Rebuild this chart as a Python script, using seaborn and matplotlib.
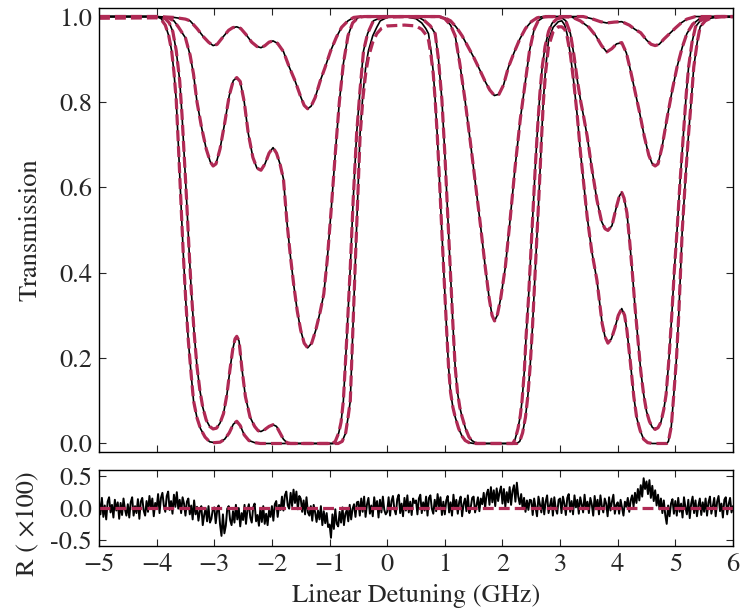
import numpy as np
import pandas as pd
import matplotlib
matplotlib.use("Agg")
import matplotlib.pyplot as plt
from matplotlib.ticker import FormatStrFormatter
import seaborn as sns

# ========== values ==========
X_MIN, X_MAX = -5.0, 6.0
FIT_RED = "#b02a55"

# (detuning GHz, transmission) for the four measured spectra, weakest first
curve_1 = [(-5.0, 1.0), (-4.0, 1.0), (-3.7, 0.998), (-3.5, 0.994), (-3.42, 0.99), (-3.3, 0.972),
           (-3.19, 0.953), (-3.1, 0.94), (-3.02, 0.932), (-2.95, 0.935), (-2.85, 0.952), (-2.75, 0.968),
           (-2.68, 0.974), (-2.61, 0.976), (-2.54, 0.972), (-2.45, 0.958), (-2.35, 0.94), (-2.26, 0.93),
           (-2.19, 0.927), (-2.12, 0.932), (-2.05, 0.94), (-1.98, 0.943), (-1.9, 0.937), (-1.8, 0.918),
           (-1.7, 0.882), (-1.6, 0.85), (-1.5, 0.812), (-1.44, 0.792), (-1.38, 0.784), (-1.32, 0.79),
           (-1.25, 0.81), (-1.16, 0.85), (-1.08, 0.88), (-0.98, 0.92), (-0.88, 0.952), (-0.79, 0.975),
           (-0.68, 0.99), (-0.58, 0.998), (-0.45, 1.0), (0.9, 1.0), (1.0, 0.997), (1.1, 0.99),
           (1.2, 0.975), (1.3, 0.955), (1.4, 0.93), (1.5, 0.905), (1.6, 0.877), (1.7, 0.848),
           (1.78, 0.828), (1.86, 0.815), (1.94, 0.818), (2.02, 0.84), (2.1, 0.88), (2.2, 0.915),
           (2.3, 0.947), (2.4, 0.972), (2.5, 0.988), (2.6, 0.997), (2.7, 1.0), (3.4, 1.0),
           (3.55, 0.995), (3.7, 0.988), (3.81, 0.985), (3.94, 0.987), (4.07, 0.988), (4.2, 0.98),
           (4.3, 0.97), (4.4, 0.962), (4.5, 0.945), (4.58, 0.935), (4.65, 0.932), (4.72, 0.935),
           (4.8, 0.947), (4.9, 0.96), (5.0, 0.973), (5.1, 0.985), (5.2, 0.994), (5.35, 1.0), (6.0, 1.0)]

curve_2 = [(-5.0, 1.0), (-4.0, 1.0), (-3.8, 0.997), (-3.7, 0.99), (-3.62, 0.975), (-3.5, 0.95),
           (-3.42, 0.91), (-3.36, 0.865), (-3.3, 0.80), (-3.22, 0.74), (-3.14, 0.69), (-3.07, 0.66),
           (-3.02, 0.65), (-2.97, 0.655), (-2.9, 0.69), (-2.82, 0.75), (-2.74, 0.815), (-2.67, 0.85),
           (-2.61, 0.857), (-2.55, 0.848), (-2.48, 0.80), (-2.41, 0.726), (-2.33, 0.67), (-2.26, 0.645),
           (-2.19, 0.64), (-2.12, 0.655), (-2.05, 0.68), (-1.98, 0.693), (-1.92, 0.68), (-1.86, 0.655),
           (-1.8, 0.62), (-1.74, 0.52), (-1.68, 0.44), (-1.62, 0.37), (-1.56, 0.31), (-1.5, 0.265),
           (-1.44, 0.235), (-1.38, 0.224), (-1.31, 0.235), (-1.24, 0.265), (-1.16, 0.31), (-1.1, 0.35),
           (-1.04, 0.43), (-0.97, 0.55), (-0.9, 0.68), (-0.83, 0.8), (-0.76, 0.89), (-0.68, 0.955),
           (-0.6, 0.985), (-0.5, 0.998), (-0.4, 1.0),
           (0.9, 1.0), (1.0, 0.995), (1.1, 0.98), (1.18, 0.955), (1.26, 0.89), (1.35, 0.805),
           (1.44, 0.71), (1.53, 0.61), (1.62, 0.51), (1.7, 0.415), (1.77, 0.34), (1.82, 0.30),
           (1.863, 0.287), (1.91, 0.30), (1.97, 0.34), (2.05, 0.413), (2.13, 0.52), (2.22, 0.648),
           (2.31, 0.76), (2.4, 0.85), (2.47, 0.92), (2.55, 0.97), (2.62, 0.99), (2.72, 0.999), (2.8, 1.0),
           (3.2, 0.999), (3.35, 0.99), (3.5, 0.975), (3.62, 0.955), (3.72, 0.932), (3.81, 0.917),
           (3.9, 0.925), (3.98, 0.936), (4.07, 0.939), (4.15, 0.915), (4.22, 0.875), (4.3, 0.825),
           (4.38, 0.775), (4.46, 0.72), (4.54, 0.675), (4.6, 0.655), (4.65, 0.65), (4.7, 0.655),
           (4.77, 0.695), (4.86, 0.765), (4.95, 0.83), (5.03, 0.882), (5.12, 0.928), (5.2, 0.96),
           (5.3, 0.982), (5.43, 0.996), (5.6, 1.0), (6.0, 1.0)]

curve_3 = [(-5.0, 1.0), (-4.0, 1.0), (-3.85, 0.995), (-3.78, 0.985), (-3.72, 0.965), (-3.66, 0.92),
           (-3.6, 0.85), (-3.56, 0.77), (-3.52, 0.67), (-3.48, 0.57), (-3.44, 0.46), (-3.4, 0.36),
           (-3.35, 0.26), (-3.3, 0.18), (-3.25, 0.125), (-3.2, 0.085), (-3.14, 0.055), (-3.08, 0.04),
           (-3.02, 0.034), (-2.96, 0.036), (-2.9, 0.048), (-2.84, 0.07), (-2.78, 0.115), (-2.73, 0.171),
           (-2.68, 0.22), (-2.64, 0.245), (-2.61, 0.251), (-2.57, 0.24), (-2.52, 0.175), (-2.46, 0.11),
           (-2.38, 0.062), (-2.3, 0.04), (-2.24, 0.03), (-2.19, 0.028), (-2.12, 0.033), (-2.05, 0.04),
           (-1.98, 0.044), (-1.92, 0.04), (-1.86, 0.025), (-1.8, 0.01), (-1.74, 0.002), (-1.68, 0.0),
           (-0.95, 0.0), (-0.9, 0.005), (-0.84, 0.025), (-0.8, 0.05), (-0.76, 0.10), (-0.7, 0.25),
           (-0.64, 0.413), (-0.59, 0.57), (-0.53, 0.726), (-0.47, 0.83), (-0.41, 0.92), (-0.34, 0.96),
           (-0.24, 0.99), (-0.1, 0.998), (0.3, 1.0),
           (0.55, 0.998), (0.65, 0.99), (0.75, 0.978), (0.833, 0.96), (0.89, 0.9), (0.95, 0.804),
           (1.0, 0.68), (1.035, 0.58), (1.065, 0.492), (1.1, 0.39), (1.14, 0.28), (1.18, 0.179),
           (1.22, 0.12), (1.26, 0.085), (1.3, 0.062), (1.36, 0.035), (1.42, 0.015), (1.47, 0.007),
           (1.55, 0.0), (2.18, 0.0), (2.22, 0.01), (2.27, 0.035), (2.31, 0.065), (2.34, 0.10),
           (2.38, 0.17), (2.41, 0.25), (2.45, 0.335), (2.49, 0.44), (2.53, 0.545), (2.57, 0.648),
           (2.61, 0.74), (2.65, 0.82), (2.69, 0.882), (2.74, 0.93), (2.8, 0.965), (2.86, 0.984),
           (2.95, 0.995), (3.03, 0.997),
           (3.1, 0.99), (3.18, 0.96), (3.24, 0.91), (3.3, 0.85), (3.36, 0.80), (3.41, 0.765),
           (3.47, 0.72), (3.55, 0.645), (3.64, 0.57), (3.72, 0.52), (3.78, 0.503), (3.83, 0.499),
           (3.9, 0.51), (3.97, 0.55), (4.03, 0.58), (4.07, 0.588), (4.11, 0.575), (4.16, 0.54),
           (4.21, 0.47), (4.26, 0.39), (4.3, 0.32), (4.35, 0.245), (4.4, 0.17), (4.45, 0.115),
           (4.5, 0.075), (4.55, 0.052), (4.6, 0.038), (4.65, 0.033), (4.7, 0.037), (4.75, 0.05),
           (4.8, 0.08), (4.84, 0.115), (4.89, 0.2), (4.94, 0.304), (4.98, 0.4), (5.03, 0.5),
           (5.08, 0.61), (5.14, 0.726), (5.19, 0.82), (5.23, 0.882), (5.29, 0.94), (5.35, 0.976),
           (5.43, 0.99), (5.52, 0.996), (5.7, 1.0), (6.0, 1.0)]

curve_4 = [(-5.0, 1.0), (-4.0, 1.0), (-3.92, 0.995), (-3.85, 0.98), (-3.79, 0.955), (-3.74, 0.92),
           (-3.7, 0.87), (-3.66, 0.804), (-3.62, 0.69), (-3.58, 0.57), (-3.54, 0.45), (-3.495, 0.335),
           (-3.45, 0.24), (-3.4, 0.16), (-3.36, 0.10), (-3.3, 0.06), (-3.24, 0.035), (-3.16, 0.015),
           (-3.08, 0.004), (-3.0, 0.002), (-2.9, 0.003), (-2.82, 0.01), (-2.74, 0.025), (-2.67, 0.045),
           (-2.61, 0.052), (-2.55, 0.042), (-2.48, 0.02), (-2.4, 0.007), (-2.3, 0.002), (-2.2, 0.0),
           (-0.85, 0.0), (-0.78, 0.005), (-0.72, 0.025), (-0.68, 0.06), (-0.64, 0.10), (-0.6, 0.25),
           (-0.556, 0.413), (-0.51, 0.58), (-0.47, 0.726), (-0.42, 0.82), (-0.37, 0.885), (-0.325, 0.92),
           (-0.25, 0.955), (-0.18, 0.975), (-0.12, 0.99), (0.0, 0.998), (0.3, 1.0),
           (0.5, 0.995), (0.6, 0.985), (0.67, 0.972), (0.717, 0.96), (0.76, 0.92), (0.8, 0.87),
           (0.833, 0.804), (0.87, 0.72), (0.91, 0.61), (0.95, 0.492), (0.99, 0.38), (1.03, 0.27),
           (1.065, 0.179), (1.1, 0.12), (1.14, 0.085), (1.18, 0.062), (1.24, 0.035), (1.3, 0.017),
           (1.354, 0.007), (1.42, 0.002), (1.5, 0.0), (2.25, 0.0), (2.3, 0.005), (2.35, 0.025),
           (2.4, 0.062), (2.44, 0.11), (2.48, 0.179), (2.52, 0.27), (2.56, 0.38), (2.6, 0.492),
           (2.64, 0.6), (2.68, 0.72), (2.71, 0.804), (2.75, 0.88), (2.8, 0.945), (2.88, 0.975),
           (2.97, 0.988), (3.03, 0.99),
           (3.08, 0.98), (3.12, 0.96), (3.18, 0.91), (3.24, 0.843), (3.3, 0.765), (3.35, 0.687),
           (3.41, 0.61), (3.47, 0.531), (3.55, 0.45), (3.64, 0.382), (3.73, 0.281), (3.78, 0.25),
           (3.83, 0.235), (3.89, 0.245), (3.95, 0.27), (4.01, 0.3), (4.07, 0.316), (4.12, 0.3),
           (4.16, 0.265), (4.22, 0.19), (4.28, 0.109), (4.33, 0.06), (4.39, 0.03), (4.45, 0.01),
           (4.52, 0.002), (4.6, 0.0), (4.85, 0.0), (4.88, 0.005), (4.93, 0.04), (4.97, 0.109),
           (5.02, 0.2), (5.06, 0.304), (5.12, 0.5), (5.18, 0.63), (5.23, 0.726), (5.28, 0.81),
           (5.32, 0.882), (5.38, 0.94), (5.43, 0.976), (5.52, 0.99), (5.61, 0.996), (5.8, 1.0), (6.0, 1.0)]

# the fit of the strongest spectrum sits a little below 1 between the lines
fit_4 = [(-5.0, 0.996), (-4.0, 0.997), (-3.92, 0.993), (-3.85, 0.98), (-3.79, 0.955), (-3.74, 0.92),
         (-3.7, 0.87), (-3.66, 0.804), (-3.62, 0.69), (-3.58, 0.57), (-3.54, 0.45), (-3.495, 0.335),
         (-3.45, 0.24), (-3.4, 0.16), (-3.36, 0.10), (-3.3, 0.06), (-3.24, 0.035), (-3.16, 0.015),
         (-3.08, 0.004), (-3.0, 0.002), (-2.9, 0.003), (-2.82, 0.01), (-2.74, 0.025), (-2.67, 0.045),
         (-2.61, 0.052), (-2.55, 0.042), (-2.48, 0.02), (-2.4, 0.007), (-2.3, 0.002), (-2.2, 0.0),
         (-0.85, 0.0), (-0.78, 0.005), (-0.72, 0.025), (-0.68, 0.06), (-0.64, 0.10), (-0.6, 0.25),
         (-0.556, 0.413), (-0.51, 0.58), (-0.47, 0.72), (-0.42, 0.81), (-0.37, 0.87), (-0.325, 0.905),
         (-0.25, 0.94), (-0.18, 0.96), (-0.1, 0.972), (0.0, 0.978), (0.3, 0.98),
         (0.5, 0.978), (0.6, 0.97), (0.67, 0.958), (0.717, 0.945), (0.76, 0.91), (0.8, 0.865),
         (0.833, 0.804), (0.87, 0.72), (0.91, 0.61), (0.95, 0.492), (0.99, 0.38), (1.03, 0.27),
         (1.065, 0.179), (1.1, 0.12), (1.14, 0.085), (1.18, 0.062), (1.24, 0.035), (1.3, 0.017),
         (1.354, 0.007), (1.42, 0.002), (1.5, 0.0), (2.25, 0.0), (2.3, 0.005), (2.35, 0.025),
         (2.4, 0.062), (2.44, 0.11), (2.48, 0.179), (2.52, 0.27), (2.56, 0.38), (2.6, 0.492),
         (2.64, 0.6), (2.68, 0.72), (2.71, 0.8), (2.75, 0.87), (2.8, 0.93), (2.88, 0.965),
         (2.97, 0.976), (3.03, 0.976),
         (3.08, 0.97), (3.12, 0.955), (3.18, 0.91), (3.24, 0.843), (3.3, 0.765), (3.35, 0.687),
         (3.41, 0.61), (3.47, 0.531), (3.55, 0.45), (3.64, 0.382), (3.73, 0.281), (3.78, 0.25),
         (3.83, 0.235), (3.89, 0.245), (3.95, 0.27), (4.01, 0.3), (4.07, 0.316), (4.12, 0.3),
         (4.16, 0.265), (4.22, 0.19), (4.28, 0.109), (4.33, 0.06), (4.39, 0.03), (4.45, 0.01),
         (4.52, 0.002), (4.6, 0.0), (4.85, 0.0), (4.88, 0.005), (4.93, 0.04), (4.97, 0.109),
         (5.02, 0.2), (5.06, 0.304), (5.12, 0.5), (5.18, 0.63), (5.23, 0.726), (5.28, 0.81),
         (5.32, 0.882), (5.38, 0.94), (5.43, 0.976), (5.52, 0.99), (5.61, 0.996), (5.8, 1.0), (6.0, 1.0)]

# residual (x100), one value every 0.025 GHz from -5 to 6, one row per 0.5 GHz
resid = [
    0.12, -0.10, 0.16, -0.14, 0.04, -0.18, 0.10, 0.17, -0.07, 0.05, -0.15, 0.13, -0.04, 0.09, -0.17, 0.08, -0.11, 0.15, -0.02, -0.12,
    0.06, -0.15, 0.09, 0.17, -0.12, 0.03, -0.08, 0.14, -0.17, 0.10, 0.16, -0.04, -0.12, 0.11, -0.06, 0.19, 0.00, 0.15, -0.13, 0.08,
    0.00, 0.22, -0.08, 0.16, 0.24, 0.04, -0.06, 0.19, 0.26, -0.03, 0.11, -0.09, 0.21, 0.02, 0.25, -0.01, 0.13, -0.08, 0.17, 0.07,
    -0.12, 0.10, 0.15, -0.10, 0.04, -0.18, 0.12, -0.10, 0.02, -0.20, -0.05, 0.03, -0.27, -0.11, 0.00, -0.21, 0.03, -0.23, -0.17, -0.02,
    0.01, -0.24, -0.04, 0.04, -0.26, -0.44, -0.10, -0.40, -0.28, -0.01, 0.03, -0.19, -0.27, -0.05, -0.23, 0.05, -0.18, 0.00, -0.29, -0.08,
    -0.19, 0.05, -0.25, -0.03, 0.06, -0.15, -0.23, 0.01, 0.07, -0.21, -0.11, -0.28, 0.00, -0.22, 0.03, -0.25, -0.09, -0.27, -0.04, -0.14,
    0.03, -0.20, 0.06, 0.11, -0.14, 0.05, -0.03, 0.18, -0.04, 0.20, 0.26, 0.04, -0.01, 0.24, 0.03, 0.29, 0.08, 0.26, -0.02, 0.19,
    0.15, -0.06, 0.12, -0.10, 0.17, -0.07, -0.12, 0.03, -0.20, 0.05, -0.07, -0.22, -0.04, -0.18, 0.03, -0.27, -0.05, -0.24, -0.08, -0.30,
    -0.26, -0.47, -0.10, -0.33, -0.02, -0.25, -0.29, -0.06, -0.23, 0.01, -0.27, -0.09, -0.03, -0.21, 0.05, -0.18, -0.01, 0.06, -0.14, 0.09,
    0.10, -0.12, 0.15, -0.06, 0.18, -0.14, 0.06, 0.16, -0.09, 0.04, -0.13, 0.17, -0.01, 0.11, -0.15, 0.13, -0.07, 0.18, -0.03, -0.10,
    -0.06, 0.17, -0.12, 0.11, 0.19, -0.02, -0.10, 0.14, 0.21, -0.08, 0.07, -0.13, 0.16, -0.04, 0.20, -0.07, 0.10, -0.11, 0.15, 0.08,
    0.12, -0.10, 0.15, 0.21, -0.08, 0.09, -0.04, 0.18, -0.12, 0.16, 0.20, -0.01, -0.09, 0.13, -0.05, 0.22, 0.02, 0.17, -0.11, 0.10,
    -0.10, 0.12, 0.19, -0.07, 0.09, -0.12, 0.21, -0.01, 0.13, -0.09, 0.10, 0.18, -0.13, 0.06, 0.15, -0.05, 0.20, -0.08, 0.01, 0.16,
    0.18, -0.07, 0.04, 0.17, -0.05, 0.15, 0.06, 0.24, 0.00, 0.22, 0.29, 0.05, 0.33, 0.09, 0.28, 0.03, 0.31, 0.11, 0.25, 0.34,
    0.07, 0.30, 0.02, 0.25, 0.09, 0.33, 0.05, 0.27, 0.36, 0.10, 0.40, 0.18, 0.06, 0.22, -0.01, 0.16, -0.06, 0.12, -0.03, 0.13,
    0.12, -0.11, 0.15, 0.01, -0.13, 0.18, 0.06, -0.07, 0.16, -0.10, 0.10, 0.20, -0.08, 0.04, 0.15, -0.12, 0.17, -0.01, -0.09, 0.13,
    0.15, -0.08, 0.18, 0.07, -0.11, 0.16, 0.22, -0.06, 0.11, -0.10, 0.20, 0.01, 0.13, -0.09, 0.17, 0.06, -0.07, 0.21, -0.01, 0.10,
    -0.08, 0.16, 0.06, -0.12, 0.19, -0.02, 0.13, -0.10, 0.20, 0.03, -0.07, 0.15, 0.07, -0.13, 0.17, -0.04, 0.10, 0.21, -0.09, 0.05,
    0.09, -0.09, 0.13, 0.00, -0.12, 0.10, 0.02, 0.16, -0.06, 0.12, 0.20, 0.02, 0.24, 0.08, 0.30, 0.12, 0.36, 0.18, 0.47, 0.30,
    0.42, 0.22, 0.44, 0.16, 0.35, 0.11, 0.28, 0.04, 0.21, -0.02, 0.15, -0.08, 0.12, -0.11, -0.25, 0.04, -0.13, 0.07, 0.14, -0.09,
    0.11, -0.12, 0.16, -0.06, 0.07, -0.15, 0.17, 0.01, -0.10, 0.13, -0.16, 0.07, 0.18, -0.08, 0.12, -0.13, 0.04, 0.15, -0.11, 0.09,
    -0.06, 0.15, -0.12, 0.09, 0.18, -0.09, 0.03, 0.16, -0.13, 0.10, 0.19, -0.05, 0.07, -0.15, 0.13, 0.17, -0.10, 0.06, 0.16, -0.07,
    0.03,
]
resid_fit_x = [X_MIN, X_MAX]
resid_fit = [0.0, 0.0]

MAIN_YTICKS = [0.0, 0.2, 0.4, 0.6, 0.8, 1.0]
RES_YTICKS = [-0.5, 0.0, 0.5]
RES_YTICKLABELS = ["-0.5", "0.0", "0.5"]
XTICKS = list(range(-5, 7))
FS = 19


def draw(ax, pts, **kw):
    df = pd.DataFrame(pts, columns=["x", "y"])
    sns.lineplot(data=df, x="x", y="y", ax=ax, estimator=None, sort=False, **kw)


sns.set_style("ticks")
plt.rcParams["font.family"] = ["STIXGeneral", "DejaVu Serif"]
plt.rcParams["mathtext.fontset"] = "stix"
plt.rcParams["axes.unicode_minus"] = True

fig = plt.figure(figsize=(7.4, 6.12), dpi=100)
ax = fig.add_axes([0.1338, 0.2614, 0.8567, 0.7255])
axr = fig.add_axes([0.1338, 0.1078, 0.8567, 0.1242])

data_kw = dict(color="black", lw=1.2)
fit_kw = dict(color=FIT_RED, lw=2.3, linestyle=(0, (3.4, 1.6)))

for c in (curve_1, curve_2, curve_3, curve_4):
    draw(ax, c, **data_kw)
for c in (curve_1, curve_2, curve_3, fit_4):
    draw(ax, c, **fit_kw)

resid_x = np.linspace(X_MIN, X_MAX, len(resid))
draw(axr, list(zip(resid_x, resid)), color="black", lw=1.4)
draw(axr, list(zip(resid_fit_x, resid_fit)), **fit_kw)

for a in (ax, axr):
    a.set_xlim(X_MIN, X_MAX)
    a.set_xticks(XTICKS)
    a.tick_params(direction="in", top=True, right=True, length=5, width=0.8,
                  labelsize=FS, pad=5)
    for s in a.spines.values():
        s.set_linewidth(1.0)
        s.set_color("black")

ax.set_ylim(-0.02, 1.02)
ax.set_yticks(MAIN_YTICKS)
ax.yaxis.set_major_formatter(FormatStrFormatter("%.1f"))
ax.tick_params(labelbottom=False)
ax.set_xlabel("")
ax.set_ylabel("Transmission", fontsize=FS)
ax.yaxis.set_label_coords(-0.09, 0.5)

axr.set_ylim(-0.6, 0.6)
axr.set_yticks(RES_YTICKS)
axr.set_yticklabels(RES_YTICKLABELS)
axr.set_xlabel("Linear Detuning (GHz)", fontsize=FS, labelpad=5)
axr.set_ylabel("R ( \u00d7100)", fontsize=FS)
axr.yaxis.set_label_coords(-0.093, 0.3)

fig.savefig("out.png", dpi=100)
plt.close(fig)
